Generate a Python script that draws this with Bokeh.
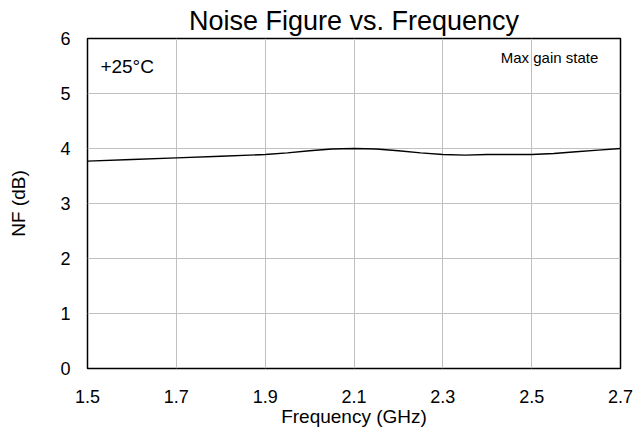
from bokeh.plotting import figure
from bokeh.models import Range1d, FixedTicker, Label
from bokeh.embed import file_html
from bokeh.resources import INLINE

freq = [1.5, 1.6, 1.7, 1.8, 1.9, 1.95, 2.0, 2.05, 2.1, 2.15, 2.2, 2.25, 2.3,
        2.35, 2.4, 2.45, 2.5, 2.55, 2.6, 2.65, 2.7]
nf = [3.77, 3.80, 3.83, 3.86, 3.89, 3.92, 3.96, 3.99, 4.00, 3.99, 3.96, 3.92, 3.89,
      3.88, 3.89, 3.89, 3.89, 3.91, 3.94, 3.97, 4.00]
x_ticks = [1.5, 1.7, 1.9, 2.1, 2.3, 2.5, 2.7]
y_ticks = [0, 1, 2, 3, 4, 5, 6]

FONT = "Liberation Sans"

p = figure(width=642, height=436, output_backend="svg", toolbar_location=None,
           x_range=Range1d(1.5, 2.7), y_range=Range1d(0, 6),
           title="Noise Figure vs. Frequency",
           min_border_left=87, min_border_right=22, min_border_bottom=68, min_border_top=38)

p.title.text_font = FONT
p.title.text_font_size = "27px"
p.title.text_font_style = "normal"
p.title.text_color = "black"
p.title.align = "center"
p.title.standoff = 5
p.title.offset = 0

p.outline_line_color = "black"
p.outline_line_width = 1.5
p.outline_line_alpha = 1

for ax in (p.xaxis[0], p.yaxis[0]):
    ax.axis_line_color = None
    ax.major_tick_line_color = None
    ax.minor_tick_line_color = None
    ax.major_label_text_font = FONT
    ax.major_label_text_font_size = "18px"
    ax.major_label_text_color = "black"
    ax.axis_label_text_font = FONT
    ax.axis_label_text_font_size = "19px"
    ax.axis_label_text_font_style = "normal"
    ax.axis_label_text_color = "black"

p.xaxis.major_label_standoff = 15
p.yaxis.major_label_standoff = 11
p.xaxis.ticker = FixedTicker(ticks=x_ticks)
p.yaxis.ticker = FixedTicker(ticks=y_ticks)
p.xaxis.axis_label = "Frequency (GHz)"
p.yaxis.axis_label = "NF (dB)"
p.xaxis.axis_label_standoff = 0
p.yaxis.axis_label_standoff = 28

p.xgrid.grid_line_color = "#c0c0c0"
p.ygrid.grid_line_color = "#c0c0c0"
p.xgrid.grid_line_width = 1
p.ygrid.grid_line_width = 1

p.line(freq, nf, line_color="black", line_width=1.4)

p.add_layout(Label(x=1.529, y=5.5, text="+25°C", text_font=FONT, text_font_size="19px",
                   text_color="black", text_baseline="alphabetic"))
p.add_layout(Label(x=2.65, y=5.65, text="Max gain state", text_font=FONT, text_font_size="15px",
                   text_color="black", text_align="right", text_baseline="alphabetic"))

open("out.html", "w").write(file_html(p, INLINE))
